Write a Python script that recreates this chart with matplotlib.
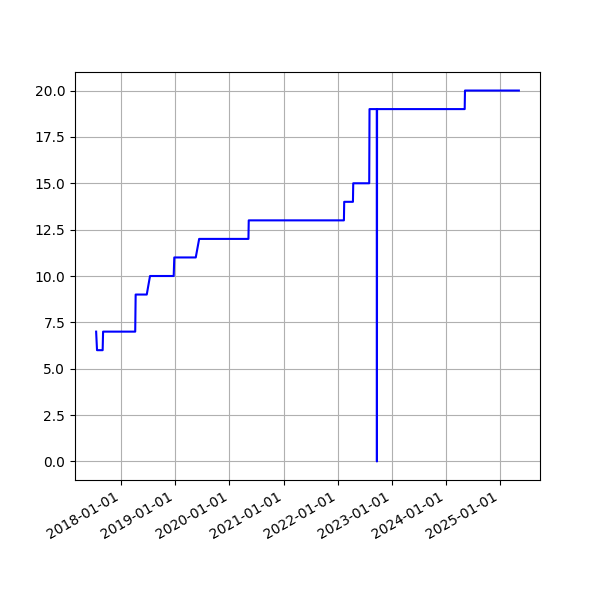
import matplotlib
matplotlib.use("Agg")
import matplotlib.pyplot as plt
import matplotlib.dates as mdates
import numpy as np

# dates where the count was recorded, and the count at that date
dates = [
    "2017-07-14", "2017-07-20", "2017-08-27", "2017-08-30",
    "2018-04-04", "2018-04-07", "2018-06-21", "2018-07-13",
    "2018-12-20", "2018-12-24", "2019-05-18", "2019-06-10",
    "2020-05-08", "2020-05-10", "2022-02-12", "2022-02-14",
    "2022-04-14", "2022-04-16", "2022-08-02", "2022-08-04",
    "2022-09-22", "2022-09-23", "2022-09-24", "2024-05-08",
    "2024-05-10", "2025-05-09",
]
counts = [
    7, 6, 6, 7,
    7, 9, 9, 10,
    10, 11, 11, 12,
    12, 13, 13, 14,
    14, 15, 15, 19,
    19, 0, 19, 19,
    20, 20,
]

x = np.array(dates, dtype="datetime64[D]")

fig, ax = plt.subplots(figsize=(6, 6), dpi=100)
ax.plot(x, counts, color="blue")
ax.grid(True)
ax.xaxis.set_major_locator(mdates.YearLocator())
ax.xaxis.set_major_formatter(mdates.DateFormatter("%Y-%m-%d"))
fig.autofmt_xdate()
fig.savefig("out.png")
